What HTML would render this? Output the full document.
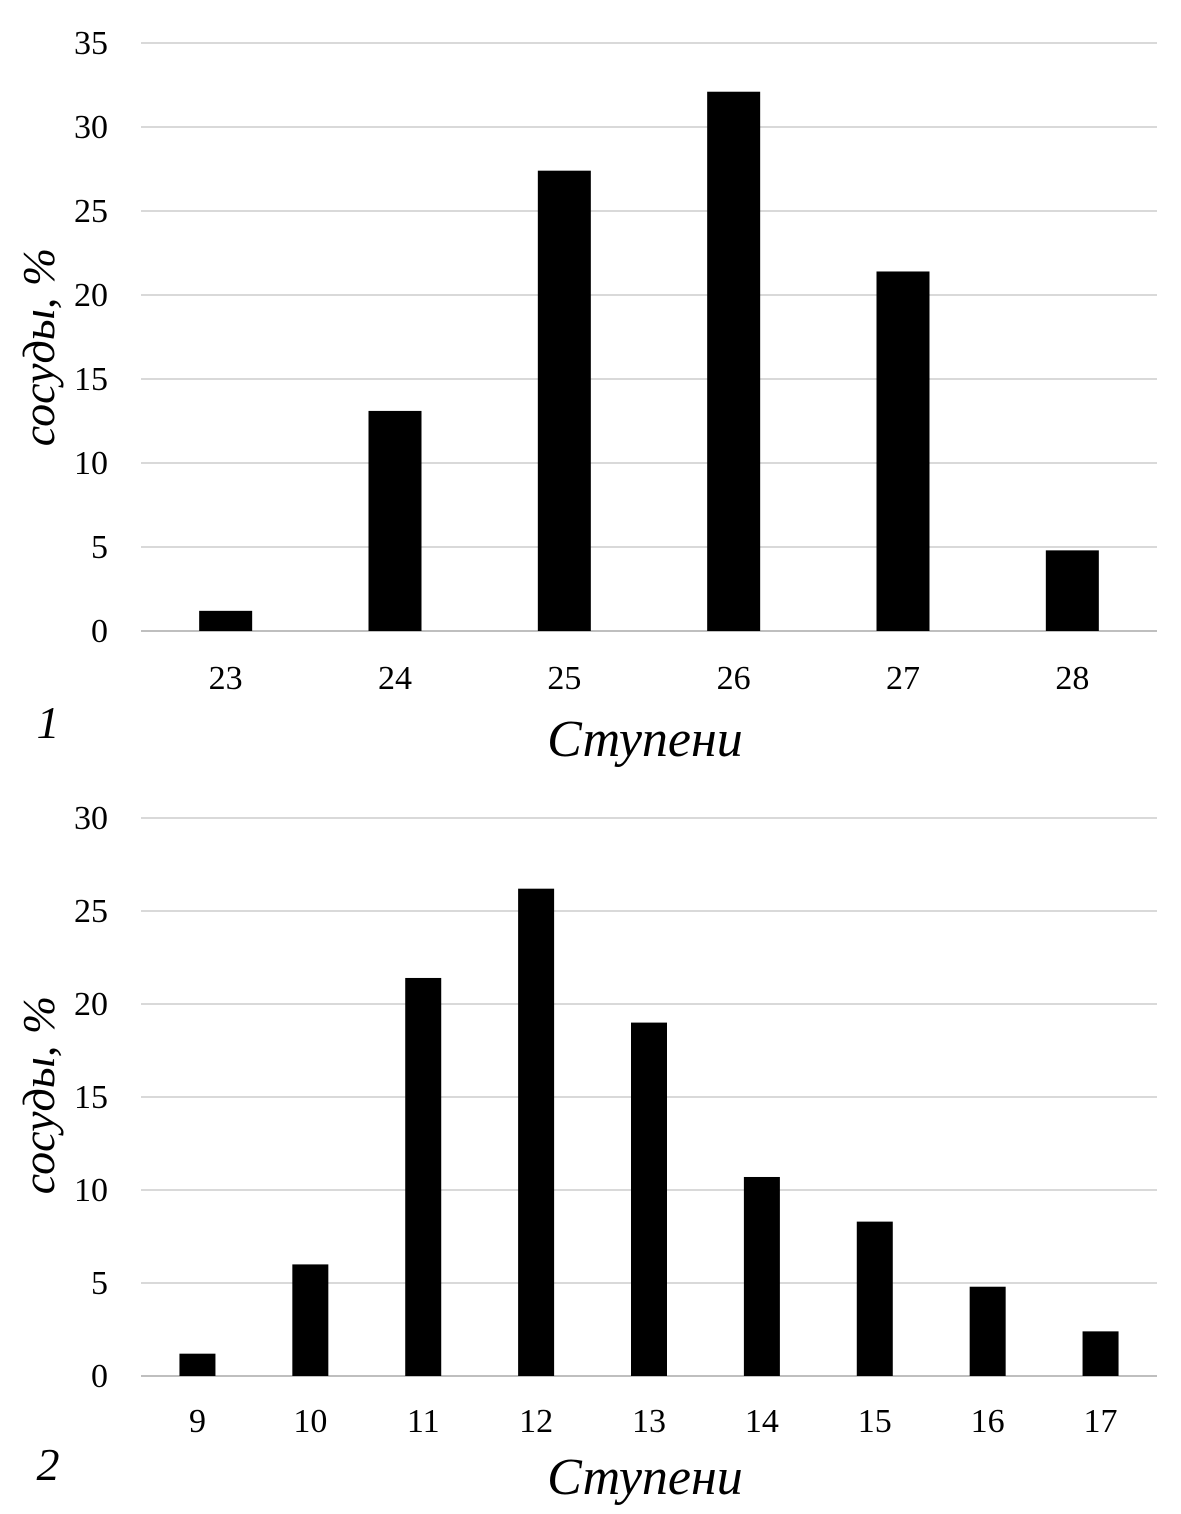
<!DOCTYPE html>
<html><head><meta charset="utf-8"><style>
html,body{margin:0;padding:0;background:#fff;}
svg{display:block;font-family:"Liberation Serif",serif;}
</style></head><body>
<svg id="chart" width="1181" height="1514" viewBox="0 0 1181 1514" xmlns="http://www.w3.org/2000/svg"></svg>
<script>
const cats1 = ["23","24","25","26","27","28"];
const vals1 = [1.2, 13.1, 27.4, 32.1, 21.4, 4.8];
const ticks1 = [0,5,10,15,20,25,30,35];
const cats2 = ["9","10","11","12","13","14","15","16","17"];
const vals2 = [1.2, 6.0, 21.4, 26.2, 19.0, 10.7, 8.3, 4.8, 2.4];
const ticks2 = [0,5,10,15,20,25,30];

const svg = document.getElementById('chart');
const NS = "http://www.w3.org/2000/svg";
function el(tag, attrs, text){
  const e = document.createElementNS(NS, tag);
  for (const k in attrs) e.setAttribute(k, attrs[k]);
  if (text !== undefined) e.textContent = text;
  svg.appendChild(e);
  return e;
}
function drawChart(o){
  const x0=141, x1=1157;
  const maxT = o.ticks[o.ticks.length-1];
  const yS = v => o.y0 - (o.y0 - o.yTop) * v / maxT;
  const step = (x1-x0)/o.cats.length;
  const xC = i => x0 + step*(i+0.5);
  o.ticks.forEach(t=>{
    const l = el('line',{x1:x0,x2:x1,y1:yS(t),y2:yS(t),stroke:t===0?'#bfbfbf':'#d9d9d9','stroke-width':2});
    
    
    const tx = el('text',{x:108,y:yS(t)+11,'text-anchor':'end','font-size':34,fill:'#000'},String(t));
    
    
  });
  o.cats.forEach((c,i)=>{
    const v=o.vals[i];
    const b = el('rect',{x:xC(i)-o.bw/2,y:yS(v),width:o.bw,height:o.y0-yS(v),fill:'#000'});
    
    
    const t = el('text',{x:xC(i),y:o.xLabY,'text-anchor':'middle','font-size':34,fill:'#000'},c);
    
    
  });
  const yt = el('text',{x:0,y:0,'text-anchor':'middle','font-size':46,'font-style':'italic',fill:'#000',transform:`translate(54,${o.yTitleY}) rotate(-90)`},'сосуды, %');
  
  
  const xt = el('text',{x:645,y:o.xTitleY,'text-anchor':'middle','font-size':52,'font-style':'italic',fill:'#000'},'Ступени');
  
  
  const pn = el('text',{x:48,y:o.numY,'text-anchor':'middle','font-size':46,'font-style':'italic',fill:'#000'},o.num);
  
  
}
drawChart({cats:cats1,vals:vals1,ticks:ticks1,y0:631,yTop:43,bw:53,xLabY:689,yTitleY:347,xTitleY:756,numY:738,num:'1'});
drawChart({cats:cats2,vals:vals2,ticks:ticks2,y0:1376,yTop:818,bw:36,xLabY:1432,yTitleY:1095,xTitleY:1494,numY:1480,num:'2'});
</script>
</body></html>
